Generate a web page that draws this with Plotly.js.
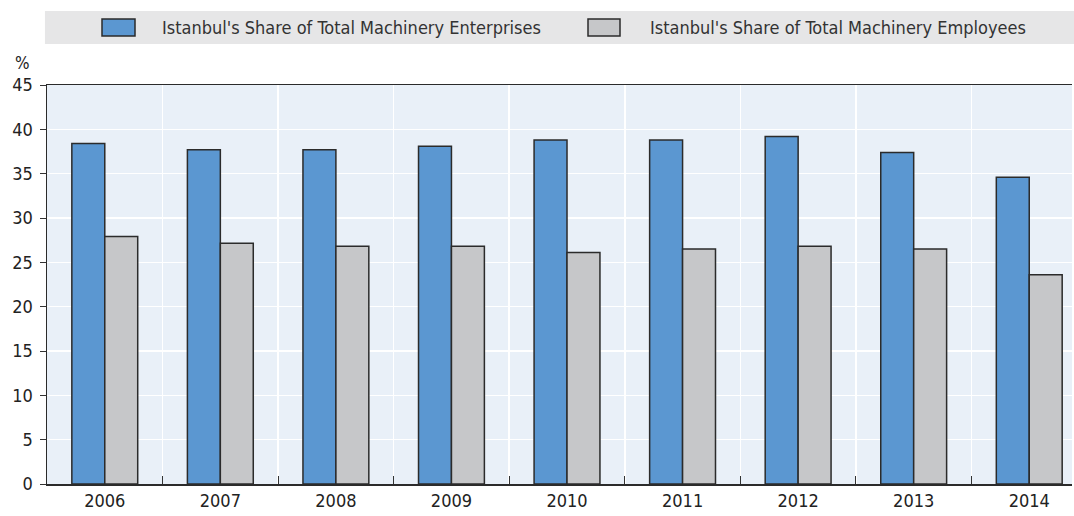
<!DOCTYPE html>
<html><head><meta charset="utf-8">
<script src="https://cdn.plot.ly/plotly-3.0.1.min.js"></script>
<style>body{margin:0;padding:0;background:#fff}#chart{width:1074px;height:516px}</style>
</head><body><div id="chart"></div>
<script>
const years = ['2006','2007','2008','2009','2010','2011','2012','2013','2014'];
const enterprises = [38.4, 37.7, 37.7, 38.1, 38.8, 38.8, 39.2, 37.4, 34.6];
const employees = [27.9, 27.15, 26.8, 26.8, 26.1, 26.5, 26.8, 26.5, 23.6];
const seriesNames = ["Istanbul's Share of Total Machinery Enterprises", "Istanbul's Share of Total Machinery Employees"];
const colors = ['#5b97d1', '#c6c7c9'];
const FONT = '"Liberation Sans Narrow", "DejaVu Sans Condensed", "Liberation Sans", Arial, sans-serif';

const traces = [
  {type:'bar', x: years, y: enterprises, name: seriesNames[0], marker:{color:colors[0], line:{color:'#2b2b2b', width:1.5}}, hoverinfo:'y'},
  {type:'bar', x: years, y: employees, name: seriesNames[1], marker:{color:colors[1], line:{color:'#2b2b2b', width:1.5}}, hoverinfo:'y'}
];

const layout = {
  width:1074, height:516,
  margin:{l:47, r:2, t:85, b:32},
  paper_bgcolor:'#ffffff', plot_bgcolor:'#e9f0f8',
  font:{family:FONT, size:18, color:'#222'},
  showlegend:false,
  barmode:'group', bargap:0.43, bargroupgap:0,
  xaxis:{type:'category', range:[-0.5, 8.37], tickson:'boundaries', showgrid:true, gridcolor:'#ffffff', gridwidth:1.5,
         ticks:'inside', ticklen:8, tickcolor:'#333', showline:true, linecolor:'#2b2b2b', linewidth:1.5, mirror:true,
         tickfont:{size:18, color:'#222'}, fixedrange:true},
  yaxis:{range:[0,45], dtick:5, showgrid:true, gridcolor:'#ffffff', gridwidth:1.5, zeroline:false,
         ticks:'outside', ticklen:6, tickcolor:'#333', showline:true, linecolor:'#2b2b2b', linewidth:1.5,
         ticklabelstandoff:3, tickfont:{size:18, color:'#222'}, fixedrange:true},
  shapes:[
    {type:'rect', xref:'paper', yref:'paper', x0:-0.002, x1:1.002, y0:(516-44-32)/399, y1:(516-11-32)/399, fillcolor:'#e6e6e7', line:{width:0}, layer:'below'},
    {type:'rect', xref:'paper', yref:'paper', x0:(102-47)/1025, x1:(135-47)/1025, y0:(516-36-32)/399, y1:(516-19-32)/399, fillcolor:colors[0], line:{color:'#2b2b2b', width:1.5}},
    {type:'rect', xref:'paper', yref:'paper', x0:(588-47)/1025, x1:(620-47)/1025, y0:(516-36-32)/399, y1:(516-19-32)/399, fillcolor:colors[1], line:{color:'#2b2b2b', width:1.5}}
  ],
  annotations:[
    {xref:'paper', yref:'paper', x:(160-47)/1025, y:(516-27.5-32)/399, xanchor:'left', yanchor:'middle', text:seriesNames[0], showarrow:false, font:{size:18, color:'#333'}},
    {xref:'paper', yref:'paper', x:(648-47)/1025, y:(516-27.5-32)/399, xanchor:'left', yanchor:'middle', text:seriesNames[1], showarrow:false, font:{size:18, color:'#333'}},
    {xref:'paper', yref:'paper', x:(22-47)/1025, y:(516-63-32)/399, xanchor:'center', yanchor:'middle', text:'%', showarrow:false, font:{size:17, color:'#222'}}
  ]
};
Plotly.newPlot('chart', traces, layout, {displayModeBar:false, staticPlot:true});
</script></body></html>
